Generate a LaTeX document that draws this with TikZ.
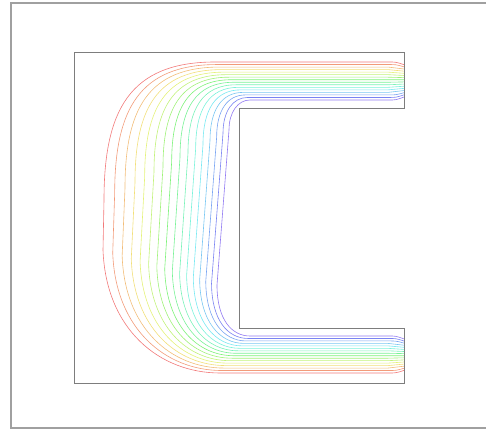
\documentclass[tikz,border=0pt]{standalone}
\usetikzlibrary{calc}
\definecolor{wallGray}{RGB}{125,125,125}
\definecolor{frameGray}{RGB}{160,160,160}

\begin{document}
\begin{tikzpicture}[x=1pt, y=-1pt,
  outerframe/.style={draw=frameGray, line width=1.2pt},
  wall/.style={draw=wallGray, line width=0.8pt},
  isoline/.style={line width=0.6pt, line join=round},
]
  \useasboundingbox (0,0) rectangle (487,430);
  \draw[outerframe] (486,3) -- (11,3) -- (11,428) -- (486,428);
  % C-shaped region
  \draw[wall] (404,108) -- (239,108) -- (239,328) -- (404,328) -- (404,383)
    -- (74,383) -- (74,52) -- (404,52) -- cycle;
  % level curves, outer (red) to inner (blue)
  \foreach \i in {0,...,15}{
    \pgfmathsetmacro\lvt{\i/15}
    \pgfmathsetmacro\lvs{\lvt*(1.3-0.3*\lvt)}
    \pgfmathsetmacro\hue{0.70*\lvt}
    \definecolor{lvl}{hsb}{\hue,0.5,0.95}
    \pgfmathsetmacro\yt{62+38*\lvt}
    \pgfmathsetmacro\yb{373-37*\lvt}
    \pgfmathsetmacro\ye{\yt+(80-\yt)*0.15}
    \pgfmathsetmacro\yf{\yb+(355.5-\yb)*0.15}
    \pgfmathsetmacro\xa{215+35*\lvt}
    \pgfmathsetmacro\xb{220+30*\lvt}
    \pgfmathsetmacro\xu{104+125*\lvs}
    \pgfmathsetmacro\yu{200-70*\lvs}
    \pgfmathsetmacro\xd{103+114*\lvs}
    \pgfmathsetmacro\yd{250+35*\lvs}
    \pgfmathsetmacro\ca{130+108*\lvs}
    \pgfmathsetmacro\cb{\yt+48-36*\lvs}
    \pgfmathsetmacro\cc{\xd+3-3*\lvs}
    \pgfmathsetmacro\ce{\yd+80-45*\lvs}
    \pgfmathsetmacro\cd{\xb-60+42*\lvs}
    \draw[isoline, lvl] (404,\ye) .. controls (396,\yt) .. (388,\yt) -- (\xa,\yt)
      .. controls (\ca,\yt) and (\xu,\cb) .. (\xu,\yu) -- (\xd,\yd)
      .. controls (\cc,\ce) and (\cd,\yb) .. (\xb,\yb) -- (388,\yb)
      .. controls (396,\yb) .. (404,\yf);
  }
\end{tikzpicture}
\end{document}
